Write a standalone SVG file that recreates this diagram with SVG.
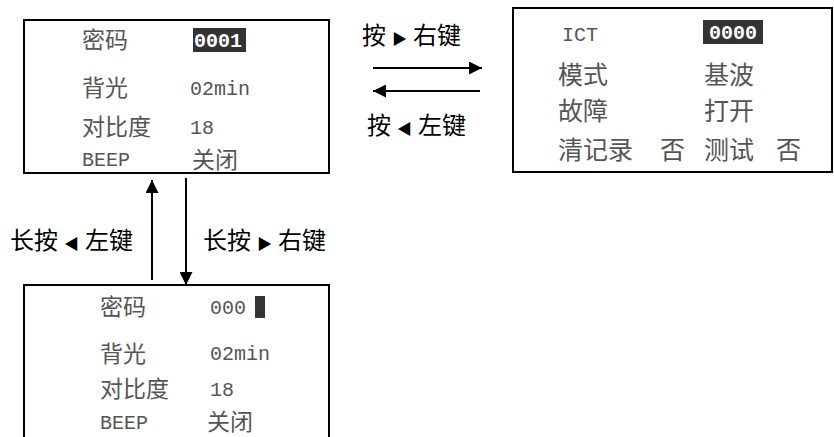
<svg xmlns="http://www.w3.org/2000/svg" width="834" height="437" viewBox="0 0 834 437">
<style>
.box{fill:#fff;stroke:#000;stroke-width:2}
.lcd{font-family:"Noto Sans CJK SC","Liberation Mono",monospace;fill:#555;font-size:23px}
.big{font-size:25px}
.mono{font-family:"Liberation Mono","DejaVu Sans Mono",monospace;fill:#555;font-size:20px}
.inv{font-family:"Liberation Mono",monospace;fill:#fff;font-size:20px;font-weight:bold}
.lbl{font-family:"Liberation Serif","Noto Sans CJK SC",serif;fill:#000;font-size:24px}
.tri{font-size:15px}
.ln{stroke:#000;stroke-width:2;fill:none}
</style>
<defs>
<marker id="ah" viewBox="0 0 10 10" refX="10" refY="5" markerWidth="8" markerHeight="6.5" markerUnits="strokeWidth" orient="auto">
<path d="M0,0 L10,5 L0,10 z" fill="#000"/>
</marker>
</defs>
<g id="node-main">
<rect class="box" x="24" y="20" width="305" height="153"/>
<text class="lcd" x="82" y="48">密码</text>
<rect x="193" y="28" width="53" height="24" fill="#333"/>
<text class="inv" x="194" y="47">0001</text>
<text class="lcd" x="82" y="96">背光</text>
<text class="mono" x="190" y="95">02min</text>
<text class="lcd" x="82" y="135">对比度</text>
<text class="mono" x="190" y="134">18</text>
<text class="mono" x="82" y="166">BEEP</text>
<text class="lcd" x="192" y="168">关闭</text>
</g>
<g id="node-ict">
<rect class="box" x="513" y="8" width="319" height="164"/>
<text class="mono" x="562" y="41">ICT</text>
<rect x="703" y="20" width="60" height="24" fill="#333"/>
<text class="inv" x="709" y="39">0000</text>
<text class="lcd big" x="558" y="84">模式</text>
<text class="lcd big" x="704" y="84">基波</text>
<text class="lcd big" x="558" y="120">故障</text>
<text class="lcd big" x="704" y="120">打开</text>
<text class="lcd big" x="558" y="159">清记录</text>
<text class="lcd big" x="660" y="159">否</text>
<text class="lcd big" x="704" y="159">测试</text>
<text class="lcd big" x="776" y="159">否</text>
</g>
<g id="node-edit">
<rect class="box" x="24" y="285" width="305" height="155"/>
<text class="lcd" x="100" y="315">密码</text>
<text class="mono" x="210" y="314">000</text>
<rect x="255" y="296" width="10" height="22" fill="#333"/>
<text class="lcd" x="100" y="362">背光</text>
<text class="mono" x="210" y="360">02min</text>
<text class="lcd" x="100" y="397">对比度</text>
<text class="mono" x="210" y="396">18</text>
<text class="mono" x="100" y="429">BEEP</text>
<text class="lcd" x="207" y="430">关闭</text>
</g>
<g id="connectors">
<line class="ln" x1="373" y1="68" x2="482" y2="68" marker-end="url(#ah)"/>
<line class="ln" x1="480" y1="91" x2="373" y2="91" marker-end="url(#ah)"/>
<line class="ln" x1="152" y1="280" x2="152" y2="180" marker-end="url(#ah)"/>
<line class="ln" x1="186" y1="178" x2="186" y2="285" marker-end="url(#ah)"/>
</g>
<g id="labels">
<text class="lbl" x="362" y="44">按 <tspan class="tri">▶</tspan> 右键</text>
<text class="lbl" x="367" y="134">按 <tspan class="tri">◀</tspan> 左键</text>
<text class="lbl" x="10" y="249">长按 <tspan class="tri">◀</tspan> 左键</text>
<text class="lbl" x="203" y="249">长按 <tspan class="tri">▶</tspan> 右键</text>
</g>
</svg>
